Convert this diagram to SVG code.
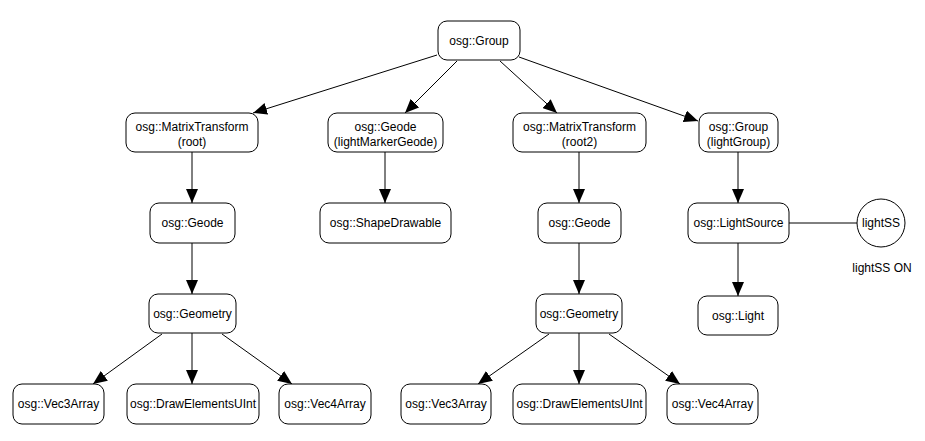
<svg xmlns="http://www.w3.org/2000/svg" width="925" height="441" viewBox="0 0 925 441">
<style>
.n{fill:#fff;stroke:#000;stroke-width:1}
.t{font-family:"Liberation Sans",Arial,sans-serif;font-size:12px;fill:#000;text-anchor:middle}
.e{stroke:#000;stroke-width:1;fill:none}
</style>
<defs>
<marker id="ah" markerUnits="userSpaceOnUse" markerWidth="14" markerHeight="12" viewBox="0 0 14 12" refX="14" refY="6" orient="auto">
<path d="M0,0 L14,6 L0,12 Z" fill="#000"/>
</marker>
</defs>
<rect width="925" height="441" fill="#fff"/>
<g id="connectors">
<line class="e" x1="437" y1="55" x2="253" y2="113" marker-end="url(#ah)"/>
<line class="e" x1="457" y1="61" x2="405" y2="113" marker-end="url(#ah)"/>
<line class="e" x1="500" y1="61" x2="557" y2="113" marker-end="url(#ah)"/>
<line class="e" x1="519" y1="57" x2="698" y2="121" marker-end="url(#ah)"/>
<line class="e" x1="192" y1="152" x2="192" y2="203" marker-end="url(#ah)"/>
<line class="e" x1="385" y1="152" x2="385" y2="203" marker-end="url(#ah)"/>
<line class="e" x1="579" y1="152" x2="579" y2="203" marker-end="url(#ah)"/>
<line class="e" x1="738" y1="152" x2="738" y2="203" marker-end="url(#ah)"/>
<line class="e" x1="192" y1="243" x2="192" y2="294" marker-end="url(#ah)"/>
<line class="e" x1="579" y1="243" x2="579" y2="294" marker-end="url(#ah)"/>
<line class="e" x1="738" y1="243" x2="738" y2="296" marker-end="url(#ah)"/>
<line class="e" x1="162" y1="334" x2="93" y2="384" marker-end="url(#ah)"/>
<line class="e" x1="192" y1="333" x2="192" y2="384" marker-end="url(#ah)"/>
<line class="e" x1="222" y1="334" x2="292" y2="384" marker-end="url(#ah)"/>
<line class="e" x1="549" y1="334" x2="478" y2="384" marker-end="url(#ah)"/>
<line class="e" x1="579" y1="333" x2="579" y2="384" marker-end="url(#ah)"/>
<line class="e" x1="609" y1="334" x2="680" y2="384" marker-end="url(#ah)"/>
<line class="e" x1="789" y1="223" x2="857" y2="223"/>
</g>
<g id="group"><rect class="n" x="438" y="21" width="82" height="39" rx="9"/><text class="t" x="479" y="45">osg::Group</text></g>
<g id="mt_root"><rect class="n" x="126" y="113" width="132" height="39" rx="9"/><text class="t" x="192" y="131">osg::MatrixTransform</text><text class="t" x="192" y="146">(root)</text></g>
<g id="geode_marker"><rect class="n" x="328" y="113" width="115" height="39" rx="9"/><text class="t" x="385.5" y="131">osg::Geode</text><text class="t" x="385.5" y="146">(lightMarkerGeode)</text></g>
<g id="mt_root2"><rect class="n" x="513" y="113" width="133" height="39" rx="9"/><text class="t" x="579.5" y="131">osg::MatrixTransform</text><text class="t" x="579.5" y="146">(root2)</text></g>
<g id="group_light"><rect class="n" x="699" y="113" width="79" height="39" rx="9"/><text class="t" x="738.5" y="131">osg::Group</text><text class="t" x="738.5" y="146">(lightGroup)</text></g>
<g id="geode1"><rect class="n" x="150" y="203" width="85" height="40" rx="9"/><text class="t" x="192.5" y="227">osg::Geode</text></g>
<g id="shape"><rect class="n" x="320" y="203" width="131" height="40" rx="9"/><text class="t" x="385.5" y="227">osg::ShapeDrawable</text></g>
<g id="geode2"><rect class="n" x="538" y="203" width="83" height="40" rx="9"/><text class="t" x="579.5" y="227">osg::Geode</text></g>
<g id="lightsource"><rect class="n" x="688" y="203" width="101" height="40" rx="9"/><text class="t" x="738.5" y="227">osg::LightSource</text></g>
<g id="lightSS"><circle class="n" cx="881" cy="223" r="24"/><text class="t" x="881" y="227">lightSS</text><text class="t" x="882" y="272">lightSS ON</text></g>
<g id="light"><rect class="n" x="698" y="296" width="80" height="39" rx="9"/><text class="t" x="738" y="320">osg::Light</text></g>
<g id="geometry1"><rect class="n" x="149" y="294" width="87" height="39" rx="9"/><text class="t" x="192.5" y="318">osg::Geometry</text></g>
<g id="geometry2"><rect class="n" x="536" y="294" width="86" height="39" rx="9"/><text class="t" x="579" y="318">osg::Geometry</text></g>
<g id="vec3a"><rect class="n" x="13" y="384" width="91" height="40" rx="9"/><text class="t" x="58.5" y="408">osg::Vec3Array</text></g>
<g id="draw1"><rect class="n" x="127" y="384" width="132" height="40" rx="9"/><text class="t" x="193" y="408">osg::DrawElementsUInt</text></g>
<g id="vec4a"><rect class="n" x="279" y="384" width="92" height="40" rx="9"/><text class="t" x="325" y="408">osg::Vec4Array</text></g>
<g id="vec3b"><rect class="n" x="401" y="384" width="90" height="40" rx="9"/><text class="t" x="446" y="408">osg::Vec3Array</text></g>
<g id="draw2"><rect class="n" x="513" y="384" width="133" height="40" rx="9"/><text class="t" x="579.5" y="408">osg::DrawElementsUInt</text></g>
<g id="vec4b"><rect class="n" x="667" y="384" width="91" height="40" rx="9"/><text class="t" x="712.5" y="408">osg::Vec4Array</text></g>
</svg>
